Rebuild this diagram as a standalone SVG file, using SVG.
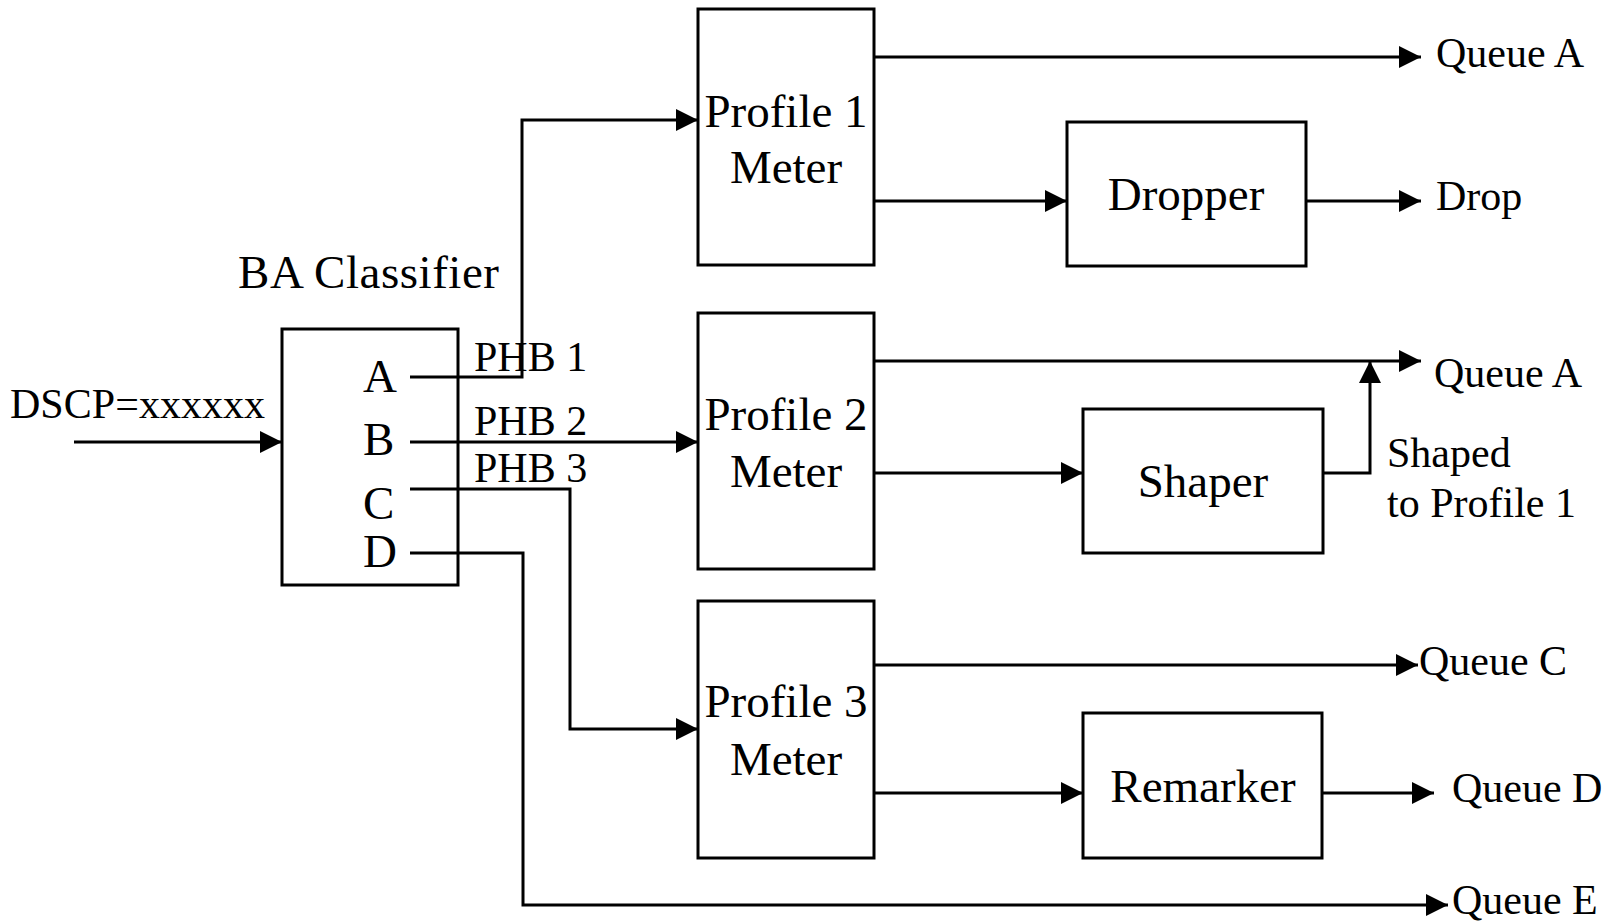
<svg xmlns="http://www.w3.org/2000/svg" width="1613" height="923" viewBox="0 0 1613 923">
<style>
.box{fill:#fff;stroke:#000;stroke-width:3}
.ln{fill:none;stroke:#000;stroke-width:3;marker-end:url(#ah)}
.big{font-family:"Liberation Serif","Times New Roman",serif;font-size:47px;fill:#000}
.sm{font-family:"Liberation Serif","Times New Roman",serif;font-size:42px;fill:#000}
.mid{text-anchor:middle}
</style>
<defs>
<marker id="ah" markerUnits="userSpaceOnUse" markerWidth="24" markerHeight="24" refX="22" refY="11" orient="auto">
<path d="M0,0 L22,11 L0,22 z" fill="#000"/>
</marker>
</defs>
<rect width="1613" height="923" fill="#fff"/>
<g id="connectors">
<path class="ln" d="M74,442 H282"/>
<path class="ln" d="M410,377 H522 V120 H698"/>
<path class="ln" d="M410,442 H698"/>
<path class="ln" d="M410,489 H570 V729 H698"/>
<path class="ln" d="M410,553 H523 V905 H1448"/>
<path class="ln" d="M874,57 H1421"/>
<path class="ln" d="M874,201 H1067"/>
<path class="ln" d="M1306,201 H1421"/>
<path class="ln" d="M874,361 H1421"/>
<path class="ln" d="M874,473 H1083"/>
<path class="ln" d="M1323,473 H1370 V361"/>
<path class="ln" d="M874,665 H1418"/>
<path class="ln" d="M874,793 H1083"/>
<path class="ln" d="M1322,793 H1434"/>
</g>
<g id="classifier">
<rect class="box" x="282" y="329" width="176" height="256" fill-opacity="0"/>
<text class="big" x="238" y="288" textLength="261">BA Classifier</text>
<text class="big" x="363" y="392">A</text>
<text class="big" x="363" y="455">B</text>
<text class="big" x="363" y="519">C</text>
<text class="big" x="363" y="567">D</text>
</g>
<g id="input-label"><text class="sm" x="10" y="418" textLength="255">DSCP=xxxxxx</text></g>
<g id="phb-labels">
<text class="sm" x="474" y="371">PHB 1</text>
<text class="sm" x="474" y="435">PHB 2</text>
<text class="sm" x="474" y="482">PHB 3</text>
</g>
<g id="profile1">
<rect class="box" x="698" y="9" width="176" height="256"/>
<text class="big mid" x="786" y="127">Profile 1</text>
<text class="big mid" x="786" y="183">Meter</text>
</g>
<g id="profile2">
<rect class="box" x="698" y="313" width="176" height="256"/>
<text class="big mid" x="786" y="430">Profile 2</text>
<text class="big mid" x="786" y="487">Meter</text>
</g>
<g id="profile3">
<rect class="box" x="698" y="601" width="176" height="257"/>
<text class="big mid" x="786" y="717">Profile 3</text>
<text class="big mid" x="786" y="775">Meter</text>
</g>
<g id="dropper">
<rect class="box" x="1067" y="122" width="239" height="144"/>
<text class="big mid" x="1186" y="210">Dropper</text>
</g>
<g id="shaper">
<rect class="box" x="1083" y="409" width="240" height="144"/>
<text class="big mid" x="1203" y="497">Shaper</text>
</g>
<g id="remarker">
<rect class="box" x="1083" y="713" width="239" height="145"/>
<text class="big mid" x="1203" y="802">Remarker</text>
</g>
<g id="outputs">
<text class="sm" x="1436" y="67">Queue A</text>
<text class="sm" x="1436" y="210">Drop</text>
<text class="sm" x="1434" y="387">Queue A</text>
<text class="sm" x="1387" y="467">Shaped</text>
<text class="sm" x="1387" y="517">to Profile 1</text>
<text class="sm" x="1419" y="675">Queue C</text>
<text class="sm" x="1452" y="802">Queue D</text>
<text class="sm" x="1452" y="914">Queue E</text>
</g>
</svg>
